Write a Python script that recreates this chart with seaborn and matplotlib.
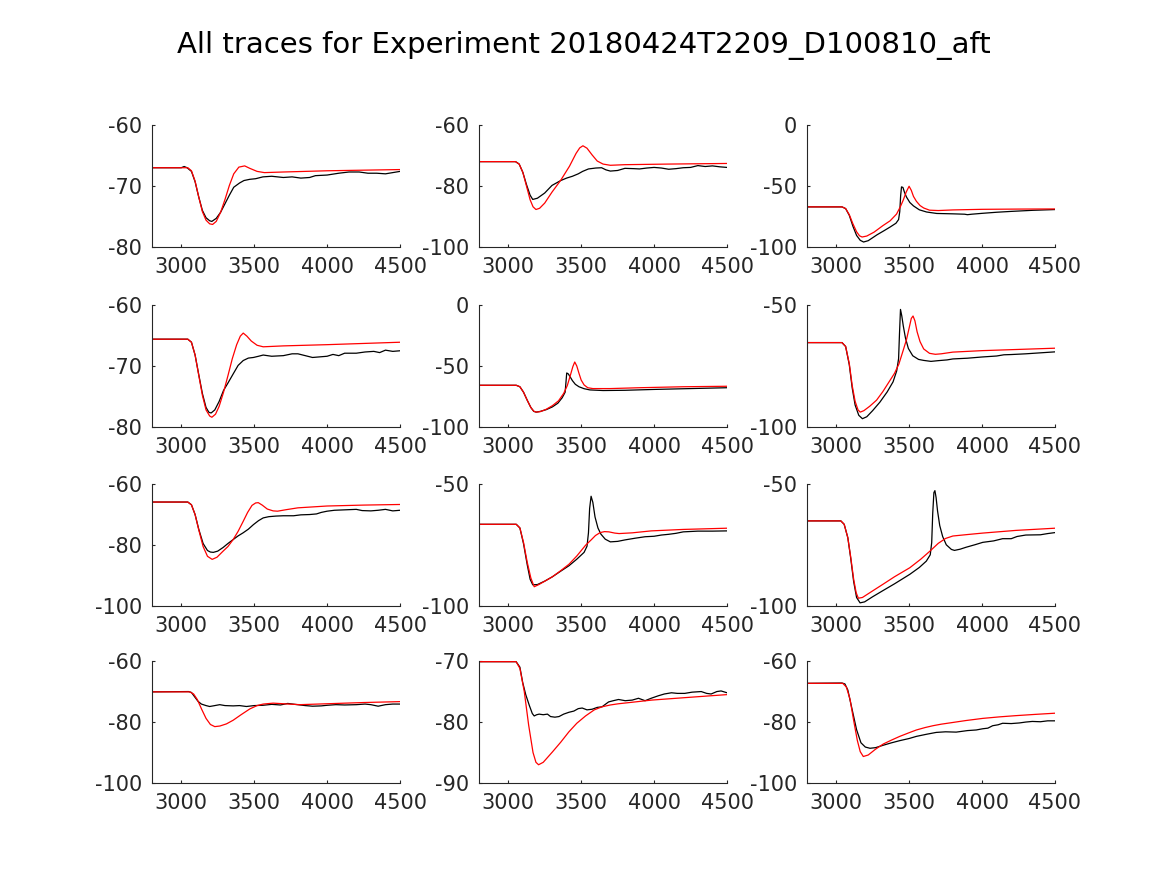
import numpy as np
import pandas as pd
import seaborn as sns
import matplotlib
matplotlib.use("Agg")
import matplotlib.pyplot as plt

# ------------------------------
# DATA (time in ms, voltage in mV)
# black = experiment, red = model
# ------------------------------
p1_black = [(2800,-67),(3000,-67),(3020,-66.8),(3040,-67),(3070,-67.6),(3095,-69.3),(3120,-71.8),(3145,-74),(3170,-75.2),(3195,-75.7),(3210,-75.8),(3240,-75.3),(3270,-74.3),(3300,-72.9),(3330,-71.5),(3360,-70.2),(3400,-69.5),(3430,-69.1),(3470,-68.9),(3510,-68.8),(3560,-68.5),(3620,-68.4),(3700,-68.6),(3760,-68.5),(3820,-68.7),(3880,-68.6),(3920,-68.3),(4000,-68.2),(4080,-67.9),(4150,-67.7),(4220,-67.7),(4280,-67.9),(4340,-67.9),(4400,-68),(4450,-67.8),(4500,-67.6)]
p1_red = [(2800,-67),(3045,-67),(3070,-67.5),(3095,-69.2),(3120,-71.8),(3145,-74.2),(3170,-75.6),(3195,-76.2),(3215,-76.3),(3240,-75.8),(3270,-74.3),(3300,-72.2),(3330,-69.9),(3360,-68),(3395,-66.9),(3435,-66.7),(3470,-67.1),(3520,-67.6),(3570,-67.8),(3700,-67.7),(4000,-67.5),(4500,-67.3)]

p2_black = [(2800,-72),(3050,-72),(3075,-72.8),(3100,-75.5),(3125,-79.5),(3150,-83),(3168,-84.4),(3200,-84),(3250,-82.3),(3300,-79.8),(3360,-78.2),(3400,-77.4),(3440,-76.8),(3480,-76),(3510,-75.2),(3550,-74.4),(3600,-74.1),(3640,-74),(3670,-74.7),(3700,-75.1),(3750,-74.9),(3800,-74.2),(3860,-74.3),(3900,-74.4),(3950,-74.1),(4000,-73.9),(4050,-74.1),(4100,-74.5),(4150,-74.3),(4200,-74.0),(4250,-73.9),(4300,-73.3),(4350,-73.6),(4400,-73.4),(4450,-73.7),(4500,-73.9)]
p2_red = [(2800,-72),(3050,-72),(3075,-72.8),(3100,-75.5),(3125,-80),(3150,-84.5),(3170,-86.8),(3190,-87.7),(3215,-87.3),(3250,-85.6),(3300,-82),(3360,-78.1),(3420,-73.5),(3465,-69.3),(3490,-67.5),(3512,-66.8),(3540,-67.6),(3575,-69.8),(3610,-71.8),(3650,-72.8),(3700,-73.2),(3800,-73.0),(4100,-72.8),(4500,-72.6)]

p3_black = [(2800,-67.1),(3040,-67.1),(3065,-68.5),(3090,-74),(3115,-83),(3140,-90.5),(3165,-94.5),(3188,-95.9),(3220,-94.8),(3280,-90),(3330,-86.5),(3370,-83.6),(3410,-80.5),(3428,-77.5),(3436,-71),(3442,-58),(3448,-50.7),(3458,-51.2),(3468,-55),(3482,-59),(3505,-63.5),(3530,-66.3),(3570,-69.5),(3620,-71.3),(3690,-72.5),(3800,-72.8),(3880,-73.1),(3900,-73.5),(3930,-73.1),(4000,-72.4),(4100,-71.5),(4200,-70.8),(4350,-69.9),(4500,-69.3)]
p3_red = [(2800,-67.1),(3040,-67.1),(3065,-68.5),(3090,-73.5),(3115,-81),(3140,-87.5),(3160,-90.8),(3178,-91.8),(3210,-91),(3260,-87.8),(3320,-82.5),(3370,-78.5),(3414,-73),(3440,-67),(3460,-61.5),(3480,-55),(3500,-50.2),(3515,-53.5),(3530,-58.5),(3550,-62.5),(3575,-66),(3600,-68),(3640,-69.8),(3700,-70.1),(3800,-69.6),(4000,-69.1),(4250,-68.9),(4500,-68.8)]

p4_black = [(2800,-65.6),(3045,-65.6),(3070,-66.1),(3095,-68.2),(3120,-71.4),(3145,-74.5),(3170,-76.8),(3190,-77.6),(3205,-77.7),(3230,-77.2),(3260,-75.8),(3290,-74),(3320,-72.8),(3356,-71.3),(3390,-69.9),(3425,-69.1),(3460,-68.7),(3495,-68.6),(3530,-68.4),(3562,-68.2),(3620,-68.4),(3700,-68.3),(3760,-68.0),(3800,-68.0),(3850,-68.3),(3900,-68.6),(3950,-68.5),(4000,-68.4),(4040,-68.1),(4080,-68.3),(4120,-67.9),(4200,-67.9),(4260,-67.7),(4320,-67.6),(4360,-67.8),(4400,-67.4),(4450,-67.6),(4500,-67.5)]
p4_red = [(2800,-65.6),(3045,-65.6),(3070,-66.1),(3095,-68.2),(3120,-71.5),(3145,-74.8),(3170,-77.2),(3195,-78.2),(3210,-78.4),(3235,-77.9),(3260,-76.6),(3290,-74.3),(3320,-71.6),(3350,-68.8),(3380,-66.5),(3405,-65.1),(3425,-64.6),(3450,-65.1),(3480,-65.9),(3520,-66.6),(3562,-66.85),(3700,-66.7),(4000,-66.5),(4500,-66.1)]

p5_black = [(2800,-65.8),(3055,-65.8),(3080,-67),(3105,-71.5),(3130,-78),(3155,-84),(3175,-87.2),(3192,-87.8),(3220,-87.2),(3260,-85.8),(3303,-83.5),(3340,-80.5),(3370,-76),(3390,-71.5),(3396,-63),(3401,-55.7),(3412,-56.5),(3425,-59),(3440,-62),(3460,-65),(3485,-67),(3520,-68.6),(3560,-69.6),(3650,-70.1),(3800,-69.9),(4000,-69.2),(4250,-68.5),(4500,-67.8)]
p5_red = [(2800,-65.8),(3055,-65.8),(3080,-67),(3105,-71.5),(3130,-78),(3155,-84),(3175,-87),(3192,-87.8),(3220,-87.4),(3260,-85.5),(3303,-82.5),(3345,-78.5),(3380,-72.5),(3405,-66),(3425,-58),(3443,-50.5),(3456,-46.7),(3470,-50),(3485,-56),(3500,-61.5),(3520,-65.5),(3545,-67.8),(3580,-68.5),(3700,-68.5),(3900,-67.8),(4200,-67),(4500,-66.6)]

p6_black = [(2800,-65.4),(3040,-65.4),(3065,-67),(3090,-74.5),(3110,-84),(3130,-91),(3155,-95.2),(3180,-96.6),(3210,-95.8),(3250,-93.3),(3300,-89.8),(3350,-85.6),(3390,-81.5),(3415,-77),(3428,-72),(3434,-62),(3441,-51.8),(3450,-54.5),(3460,-58.5),(3475,-63.5),(3495,-67.8),(3525,-70.8),(3565,-72.3),(3600,-72.7),(3650,-73.1),(3700,-72.8),(3760,-72.5),(3800,-72.1),(3900,-71.8),(4000,-71.3),(4100,-70.9),(4150,-70.4),(4200,-70.3),(4300,-70),(4400,-69.6),(4500,-69.2)]
p6_red = [(2800,-65.4),(3040,-65.4),(3065,-67),(3090,-74),(3110,-83),(3130,-89.5),(3150,-93),(3165,-93.9),(3190,-93.3),(3230,-91.5),(3277,-89),(3320,-85.5),(3368,-81),(3400,-78),(3430,-74.2),(3460,-68.5),(3482,-64.2),(3500,-59.5),(3515,-55.5),(3527,-54.5),(3540,-56.5),(3555,-61),(3575,-65),(3600,-68),(3640,-69.8),(3680,-70.2),(3720,-70),(3800,-69.3),(4000,-68.7),(4250,-68.2),(4500,-67.7)]

p7_black = [(2800,-65.9),(3045,-65.9),(3070,-66.8),(3095,-70),(3120,-74.8),(3150,-79.5),(3180,-81.8),(3200,-82.3),(3220,-82.4),(3250,-82),(3287,-80.8),(3320,-79.5),(3356,-78.2),(3390,-77),(3424,-76),(3460,-74.8),(3495,-73.3),(3530,-72),(3562,-71.1),(3600,-70.7),(3650,-70.5),(3700,-70.4),(3770,-70.4),(3820,-70.1),(3880,-70),(3927,-69.8),(3960,-69.3),(4000,-68.9),(4050,-68.6),(4100,-68.5),(4150,-68.4),(4200,-68.3),(4240,-68.7),(4300,-68.8),(4350,-68.6),(4400,-68.3),(4450,-68.8),(4500,-68.6)]
p7_red = [(2800,-65.9),(3045,-65.9),(3070,-66.8),(3095,-70),(3120,-75),(3150,-80.5),(3180,-83.7),(3212,-84.7),(3245,-84),(3287,-82),(3320,-80.5),(3356,-78.2),(3390,-75.5),(3424,-72.3),(3455,-69.3),(3485,-67),(3510,-66.2),(3528,-66.1),(3555,-66.9),(3590,-68.2),(3630,-68.8),(3660,-68.9),(3720,-68.4),(3800,-67.8),(4000,-67.2),(4250,-66.9),(4500,-66.7)]

p8_black = [(2800,-66.5),(3055,-66.5),(3080,-68),(3105,-74.5),(3130,-83),(3150,-89),(3168,-91.3),(3200,-91.2),(3250,-89.8),(3303,-88),(3360,-85.7),(3416,-83.5),(3470,-80.8),(3520,-78),(3540,-75.5),(3550,-70),(3558,-60),(3568,-55),(3580,-57.5),(3595,-63.5),(3615,-68),(3635,-70.5),(3665,-72.6),(3700,-73.7),(3750,-73.5),(3800,-72.9),(3870,-72.2),(3938,-71.6),(4000,-71.4),(4050,-70.9),(4100,-70.6),(4150,-70.2),(4200,-69.6),(4300,-69.3),(4400,-69.3),(4500,-69.2)]
p8_red = [(2800,-66.5),(3055,-66.5),(3080,-68),(3105,-74),(3130,-82),(3155,-88.5),(3178,-92.1),(3210,-91.2),(3260,-89.5),(3303,-88),(3360,-85.5),(3416,-82.9),(3470,-79.5),(3530,-75.1),(3570,-72.8),(3598,-71.1),(3630,-69.9),(3660,-69.5),(3690,-69.6),(3730,-70.1),(3760,-70.3),(3850,-70),(3980,-69.2),(4200,-68.6),(4500,-68.1)]

p9_black = [(2800,-65.1),(3032,-65.1),(3055,-66.5),(3080,-72),(3100,-80.5),(3120,-90),(3140,-96.5),(3164,-98.7),(3195,-98.3),(3250,-96.2),(3323,-93.6),(3400,-90.9),(3505,-87),(3570,-84.2),(3618,-81.6),(3645,-79),(3655,-74),(3662,-62),(3670,-53.5),(3677,-52.7),(3685,-55.5),(3695,-61),(3710,-67),(3730,-71.5),(3755,-74.9),(3790,-76.8),(3811,-77.2),(3850,-76.7),(3891,-75.9),(3950,-74.9),(4005,-73.9),(4080,-73.3),(4141,-72.4),(4200,-72.4),(4240,-71.5),(4300,-70.9),(4400,-70.8),(4450,-70.3),(4500,-69.9)]
p9_red = [(2800,-65.1),(3032,-65.1),(3055,-66.5),(3080,-72),(3100,-80),(3120,-89),(3137,-94.5),(3152,-96.8),(3180,-96.5),(3250,-93.8),(3323,-91),(3400,-88),(3505,-84.3),(3580,-80.8),(3641,-77.6),(3700,-74.3),(3750,-72.3),(3800,-71.3),(3900,-70.7),(4005,-70.1),(4232,-69),(4500,-68.1)]

p10_black = [(2800,-70.1),(3050,-70),(3070,-70.3),(3093,-71.8),(3115,-73.2),(3138,-74.1),(3170,-74.6),(3195,-74.9),(3230,-74.6),(3264,-74.3),(3300,-74.6),(3356,-74.7),(3400,-74.6),(3447,-74.9),(3500,-74.6),(3560,-74.5),(3620,-74.2),(3680,-74.4),(3730,-73.9),(3780,-74.2),(3850,-74.6),(3900,-74.8),(3960,-74.7),(4000,-74.5),(4060,-74.3),(4120,-74.4),(4200,-74.3),(4260,-74.1),(4300,-74.3),(4350,-74.8),(4400,-74.3),(4450,-74.1),(4500,-74.1)]
p10_red = [(2800,-70.1),(3058,-70.1),(3085,-70.8),(3110,-72.6),(3140,-75.8),(3170,-78.8),(3200,-80.8),(3230,-81.5),(3265,-81.3),(3310,-80.6),(3356,-79.4),(3410,-77.6),(3470,-75.7),(3520,-74.6),(3562,-74.1),(3630,-73.8),(3700,-74),(3813,-74.3),(4000,-74),(4250,-73.6),(4500,-73.3)]

p11_black = [(2800,-70.1),(3054,-70.1),(3080,-71),(3099,-73.5),(3120,-75.5),(3145,-77.3),(3165,-78.6),(3178,-79),(3195,-78.8),(3212,-78.7),(3240,-78.8),(3269,-78.7),(3290,-79.1),(3320,-79.2),(3348,-79.1),(3380,-78.7),(3416,-78.4),(3450,-78.2),(3480,-77.8),(3507,-77.7),(3540,-78),(3575,-77.9),(3610,-77.6),(3643,-77.5),(3688,-76.7),(3720,-76.5),(3756,-76.3),(3802,-76.5),(3850,-76.4),(3893,-76.1),(3938,-76.5),(3980,-76.1),(4028,-75.7),(4070,-75.4),(4119,-75.2),(4160,-75.3),(4210,-75.3),(4260,-75.1),(4323,-75),(4360,-75.3),(4391,-75.4),(4430,-75.0),(4459,-74.9),(4500,-75.2)]
p11_red = [(2800,-70.1),(3054,-70.1),(3080,-71.2),(3110,-75),(3140,-80.5),(3170,-85),(3190,-86.6),(3208,-87),(3240,-86.6),(3303,-84.9),(3360,-83.3),(3416,-81.6),(3470,-80.2),(3530,-79),(3590,-78),(3643,-77.5),(3700,-77.2),(3756,-77),(3870,-76.7),(3983,-76.4),(4210,-76),(4500,-75.5)]

p12_black = [(2800,-67.3),(3040,-67.2),(3060,-67.5),(3080,-69.5),(3110,-76),(3140,-82.5),(3170,-86.8),(3200,-88.2),(3232,-88.6),(3270,-88.4),(3323,-87.6),(3380,-86.8),(3436,-86.1),(3500,-85.4),(3550,-84.7),(3620,-84),(3686,-83.4),(3750,-83.2),(3823,-83.3),(3900,-82.8),(3960,-82.6),(4005,-82.2),(4040,-82),(4073,-81.2),(4110,-80.9),(4141,-80.4),(4200,-80.5),(4255,-80.3),(4300,-80),(4345,-79.8),(4400,-79.9),(4450,-79.6),(4500,-79.6)]
p12_red = [(2800,-67.3),(3045,-67.3),(3070,-68.5),(3095,-72.5),(3120,-79.5),(3145,-86),(3165,-89.7),(3186,-91.3),(3220,-90.8),(3270,-88.9),(3323,-87.2),(3380,-85.9),(3436,-84.7),(3500,-83.5),(3550,-82.6),(3610,-81.8),(3664,-81.2),(3720,-80.7),(3777,-80.3),(3890,-79.5),(4005,-78.8),(4120,-78.3),(4232,-77.9),(4360,-77.5),(4500,-77.1)]

traces = [
    (p1_black, p1_red), (p2_black, p2_red), (p3_black, p3_red),
    (p4_black, p4_red), (p5_black, p5_red), (p6_black, p6_red),
    (p7_black, p7_red), (p8_black, p8_red), (p9_black, p9_red),
    (p10_black, p10_red), (p11_black, p11_red), (p12_black, p12_red),
]

y_limits = [(-80, -60), (-100, -60), (-100, 0),
            (-80, -60), (-100, 0), (-100, -50),
            (-100, -60), (-100, -50), (-100, -50),
            (-100, -60), (-90, -70), (-100, -60)]
y_ticks = [[-80, -70, -60], [-100, -80, -60], [-100, -50, 0],
           [-80, -70, -60], [-100, -50, 0], [-100, -50],
           [-100, -80, -60], [-100, -50], [-100, -50],
           [-100, -80, -60], [-90, -80, -70], [-100, -80, -60]]
x_ticks = [3000, 3500, 4000, 4500]
title = "All traces for Experiment 20180424T2209_D100810_aft"

# ------------------------------
# FIGURE
# ------------------------------
sns.set_style("ticks")
plt.rcParams["font.family"] = ["DejaVu Sans"]
plt.rcParams["axes.unicode_minus"] = False

fig = plt.figure(figsize=(11.67, 8.75), dpi=100)

lefts = [0.1303, 0.4105, 0.6915]
bottoms = [0.7177, 0.5120, 0.3074, 0.1051]
w, h = 0.2125, 0.1394
ink = "#262626"

for i, (blk, red) in enumerate(traces):
    r, c = divmod(i, 3)
    ax = fig.add_axes([lefts[c], bottoms[r], w, h])
    kb = pd.DataFrame(blk, columns=["t", "v"])
    kr = pd.DataFrame(red, columns=["t", "v"])
    sns.lineplot(data=kb, x="t", y="v", ax=ax, color="black", lw=0.9,
                 sort=False, estimator=None)
    sns.lineplot(data=kr, x="t", y="v", ax=ax, color="red", lw=0.9,
                 sort=False, estimator=None)
    ax.set_xlim(2800, 4500)
    ax.set_ylim(*y_limits[i])
    ax.set_xticks(x_ticks)
    ax.set_yticks(y_ticks[i])
    ax.set_xlabel("")
    ax.set_ylabel("")
    ax.spines["top"].set_visible(False)
    ax.spines["right"].set_visible(False)
    for s in ["left", "bottom"]:
        ax.spines[s].set_color(ink)
        ax.spines[s].set_linewidth(0.8)
    ax.tick_params(direction="in", length=2.5, width=0.8, colors=ink,
                   labelsize=15, pad=7)

fig.text(0.5, 1 - 45 / 875, title, ha="center", va="center",
         fontsize=21, color="black")

fig.savefig("out.png", dpi=100)
